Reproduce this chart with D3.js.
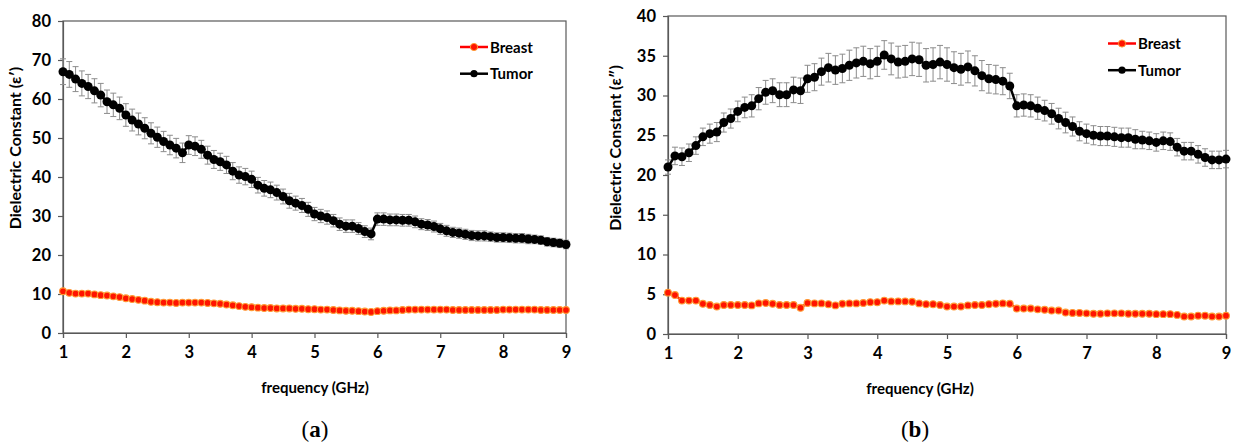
<!DOCTYPE html>
<html>
<head>
<meta charset="utf-8">
<script src="https://cdnjs.cloudflare.com/ajax/libs/d3/7.8.5/d3.min.js"></script>
<style>
  body { margin: 0; background: #fff; }
  svg text { font-family: "Lato", "Open Sans", sans-serif; font-weight: bold; fill: #000; }
  .caption { font-family: "Liberation Serif", "DejaVu Serif", serif; font-weight: normal; }
</style>
</head>
<body>
<script>
// frequency points (GHz)
var freq = [1.0,1.1,1.2,1.3,1.4,1.5,1.6,1.7,1.8,1.9,
            2.0,2.1,2.2,2.3,2.4,2.5,2.6,2.7,2.8,2.9,
            3.0,3.1,3.2,3.3,3.4,3.5,3.6,3.7,3.8,3.9,
            4.0,4.1,4.2,4.3,4.4,4.5,4.6,4.7,4.8,4.9,
            5.0,5.1,5.2,5.3,5.4,5.5,5.6,5.7,5.8,5.9,
            6.0,6.1,6.2,6.3,6.4,6.5,6.6,6.7,6.8,6.9,
            7.0,7.1,7.2,7.3,7.4,7.5,7.6,7.7,7.8,7.9,
            8.0,8.1,8.2,8.3,8.4,8.5,8.6,8.7,8.8,8.9,
            9.0];

// (a) real part
var tumorA = [67.0,66.3,65.1,64.0,63.2,62.1,61.0,59.3,58.5,57.6,
              55.9,54.6,53.6,52.5,51.2,50.2,49.1,48.2,47.4,46.2,
              48.2,47.9,47.1,45.6,44.5,43.9,43.1,41.5,40.5,40.1,
              39.4,37.9,37.1,36.7,36.0,35.0,33.9,33.3,32.7,31.7,
              30.5,30.0,29.6,28.8,27.9,27.4,27.4,26.8,26.0,25.4,
              29.2,29.2,29.0,29.0,28.9,28.9,28.5,27.9,27.7,27.3,
              26.7,26.2,25.8,25.6,25.3,25.0,24.9,24.9,24.7,24.5,
              24.5,24.4,24.3,24.3,24.1,24.0,23.8,23.4,23.2,23.0,
              22.7];
var tumorAErr = [3.3,3.3,3.2,3.2,3.1,3.1,3.0,3.0,3.0,2.9,
                 2.9,2.8,2.8,2.7,2.7,2.6,2.6,2.5,2.5,2.5,
                 2.4,2.4,2.3,2.3,2.3,2.2,2.2,2.2,2.1,2.1,
                 2.1,2.0,2.0,2.0,1.9,1.9,1.9,1.8,1.8,1.8,
                 1.7,1.7,1.7,1.6,1.6,1.6,1.6,1.5,1.5,1.5,
                 1.6,1.6,1.5,1.5,1.5,1.5,1.5,1.4,1.4,1.4,
                 1.4,1.4,1.3,1.3,1.3,1.3,1.3,1.3,1.2,1.2,
                 1.2,1.2,1.2,1.2,1.2,1.1,1.1,1.1,1.1,1.1,
                 1.1];
var breastA = [10.7,10.3,10.1,10.1,10.1,9.9,9.7,9.6,9.4,9.2,
               8.9,8.7,8.5,8.3,8.0,7.9,7.8,7.8,7.7,7.8,
               7.8,7.8,7.8,7.7,7.6,7.5,7.3,7.1,6.9,6.7,
               6.6,6.5,6.4,6.4,6.3,6.3,6.3,6.2,6.2,6.1,
               6.1,6.0,6.0,5.9,5.8,5.7,5.7,5.6,5.5,5.4,
               5.6,5.7,5.8,5.8,5.9,6.0,6.0,6.0,6.0,6.0,
               6.0,6.0,5.9,5.9,5.9,5.9,5.9,5.9,5.9,5.9,
               6.0,6.0,6.0,6.0,6.0,6.0,5.9,5.9,5.9,5.9,
               5.9];

// (b) imaginary part
var tumorB = [21.0,22.4,22.3,22.8,23.7,24.8,25.2,25.4,26.6,27.1,
              28.0,28.5,28.7,29.6,30.4,30.6,30.1,30.1,30.7,30.6,
              32.1,32.3,33.0,33.5,33.2,33.4,33.8,34.1,34.3,34.0,
              34.3,35.1,34.6,34.2,34.3,34.6,34.5,33.8,33.9,34.2,
              33.9,33.5,33.3,33.6,33.1,32.5,32.1,32.0,31.8,31.2,
              28.7,28.8,28.7,28.4,28.1,27.7,27.1,26.6,26.1,25.5,
              25.2,25.0,24.9,24.9,24.8,24.7,24.7,24.5,24.4,24.3,
              24.1,24.3,24.2,23.5,23.0,23.0,22.6,22.2,21.9,21.9,
              22.0];
var tumorBErr = [0.9,1.1,1.1,1.1,1.1,1.1,1.2,1.2,1.2,1.2,
                 1.3,1.3,1.4,1.4,1.5,1.5,1.5,1.5,1.6,1.6,
                 1.7,1.7,1.7,1.8,1.8,1.8,1.9,1.9,1.9,1.9,
                 1.9,1.8,2.0,2.0,2.0,2.1,2.1,2.1,2.1,2.1,
                 2.1,2.0,2.0,2.0,1.9,1.9,1.8,1.8,1.7,1.6,
                 1.4,1.4,1.4,1.4,1.3,1.3,1.3,1.3,1.2,1.2,
                 1.2,1.2,1.2,1.2,1.2,1.2,1.2,1.2,1.1,1.1,
                 1.1,1.1,1.1,1.1,1.1,1.1,1.1,1.1,1.1,1.1,
                 1.1];
var breastB = [5.2,4.9,4.2,4.2,4.2,3.8,3.65,3.45,3.65,3.65,
               3.65,3.65,3.6,3.85,3.9,3.8,3.65,3.65,3.65,3.3,
               3.9,3.85,3.85,3.75,3.6,3.8,3.85,3.85,3.9,4.0,
               4.0,4.2,4.1,4.1,4.1,4.05,3.85,3.75,3.75,3.65,
               3.45,3.45,3.45,3.6,3.65,3.65,3.75,3.8,3.85,3.8,
               3.2,3.2,3.2,3.1,3.05,2.95,2.95,2.7,2.65,2.65,
               2.6,2.55,2.55,2.6,2.6,2.6,2.55,2.55,2.55,2.55,
               2.5,2.5,2.5,2.4,2.2,2.2,2.3,2.3,2.2,2.2,
               2.3];

var xTicks = [1, 2, 3, 4, 5, 6, 7, 8, 9];
var yTicksA = [0, 10, 20, 30, 40, 50, 60, 70, 80];
var yTicksB = [0, 5, 10, 15, 20, 25, 30, 35, 40];
var seriesNames = ["Breast", "Tumor"];

var W = 1234, H = 445;
var svg = d3.select("body").append("svg").attr("width", W).attr("height", H);
svg.append("rect").attr("width", W).attr("height", H).attr("fill", "#fff");

var axisColor = "#595959";

function panel(opt) {
    var x = d3.scaleLinear().domain([1, 9]).range([opt.left, opt.right]);
    var y = d3.scaleLinear().domain([0, opt.yMax]).range([opt.bottom, opt.top]);
    var g = svg.append("g");

    // frame
    g.append("rect")
        .attr("x", opt.left).attr("y", opt.top)
        .attr("width", opt.right - opt.left).attr("height", opt.bottom - opt.top)
        .attr("fill", "none").attr("stroke", axisColor).attr("stroke-width", 1.2);

    var xAxis = g.append("g").attr("transform", "translate(0," + opt.bottom + ")")
        .call(d3.axisBottom(x).tickValues(xTicks).tickSize(5).tickPadding(8).tickFormat(d3.format("d")));
    var yAxis = g.append("g").attr("transform", "translate(" + opt.left + ",0)")
        .call(d3.axisLeft(y).tickValues(opt.yTicks).tickSize(5).tickPadding(7).tickFormat(d3.format("d")));
    [xAxis, yAxis].forEach(function (a) {
        a.select(".domain").attr("stroke", axisColor).attr("stroke-width", 1.2);
        a.selectAll(".tick line").attr("stroke", axisColor).attr("stroke-width", 1.2);
        a.selectAll(".tick text").style("font-size", "16.5px").attr("fill", "#000");
    });

    // axis titles
    g.append("text").attr("x", opt.xLabelX).attr("y", opt.bottom + 60)
        .attr("text-anchor", "middle").style("font-size", "15px").text("frequency (GHz)");
    g.append("text")
        .attr("transform", "translate(" + opt.yLabelX + "," + opt.yLabelY + ") rotate(-90)")
        .attr("text-anchor", "middle").style("font-size", "16px").text(opt.yLabel);

    var pts = freq.map(function (f, i) {
        return {f: f, t: opt.tumor[i], e: opt.tumorErr[i], b: opt.breast[i]};
    });

    // error bars (tumor)
    var eb = g.append("g").attr("stroke", "#8c8c8c").attr("stroke-width", 1);
    pts.forEach(function (d) {
        var cx = x(d.f), y1 = y(d.t + d.e), y2 = y(d.t - d.e);
        eb.append("line").attr("x1", cx).attr("x2", cx).attr("y1", y1).attr("y2", y2);
        eb.append("line").attr("x1", cx - 3).attr("x2", cx + 3).attr("y1", y1).attr("y2", y1);
        eb.append("line").attr("x1", cx - 3).attr("x2", cx + 3).attr("y1", y2).attr("y2", y2);
    });

    var lineT = d3.line().x(function (d) { return x(d.f); }).y(function (d) { return y(d.t); });
    var lineB = d3.line().x(function (d) { return x(d.f); }).y(function (d) { return y(d.b); });

    g.append("path").datum(pts).attr("d", lineB).attr("fill", "none")
        .attr("stroke", "#ff0000").attr("stroke-width", 2.5);
    g.selectAll(".bm").data(pts).enter().append("circle")
        .attr("cx", function (d) { return x(d.f); }).attr("cy", function (d) { return y(d.b); })
        .attr("r", 3.4).attr("fill", "#ff1400").attr("stroke", "#ff9933").attr("stroke-width", 1.1);

    g.append("path").datum(pts).attr("d", lineT).attr("fill", "none")
        .attr("stroke", "#000").attr("stroke-width", 2.5);
    g.selectAll(".tm").data(pts).enter().append("circle")
        .attr("cx", function (d) { return x(d.f); }).attr("cy", function (d) { return y(d.t); })
        .attr("r", 4.5).attr("fill", "#000");

    // legend
    var colors = ["#ff0000", "#000"];
    seriesNames.forEach(function (name, i) {
        var ly = opt.legY + i * 26.7;
        g.append("line").attr("x1", opt.legX).attr("x2", opt.legX + 28).attr("y1", ly).attr("y2", ly)
            .attr("stroke", colors[i]).attr("stroke-width", 2.5);
        g.append("circle").attr("cx", opt.legX + 14).attr("cy", ly).attr("r", 3.6)
            .attr("fill", i === 0 ? "#ff1400" : "#000").attr("stroke", i === 0 ? "#ff9933" : "none");
        g.append("text").attr("x", opt.legX + 30).attr("y", ly + 5.5)
            .style("font-size", "15px").text(name);
    });

    // panel caption
    var cap = g.append("text").attr("class", "caption").attr("x", opt.capX).attr("y", 437)
        .attr("text-anchor", "middle").style("font-size", "23px");
    cap.append("tspan").text("(");
    cap.append("tspan").style("font-weight", "bold").text(opt.cap);
    cap.append("tspan").text(")");
}

panel({left: 63, right: 566, top: 21, bottom: 333, yMax: 80, yTicks: yTicksA,
       tumor: tumorA, tumorErr: tumorAErr, breast: breastA,
       yLabel: "Dielectric Constant (\u03b5\u2032)", yLabelX: 21, yLabelY: 148, xLabelX: 315,
       legX: 460, legY: 47, cap: "a", capX: 315});

panel({left: 668, right: 1226, top: 16, bottom: 334, yMax: 40, yTicks: yTicksB,
       tumor: tumorB, tumorErr: tumorBErr, breast: breastB,
       yLabel: "Dielectric Constant (\u03b5\u2033)", yLabelX: 621, yLabelY: 148, xLabelX: 920,
       legX: 1108, legY: 43.5, cap: "b", capX: 915});
</script>
</body>
</html>
